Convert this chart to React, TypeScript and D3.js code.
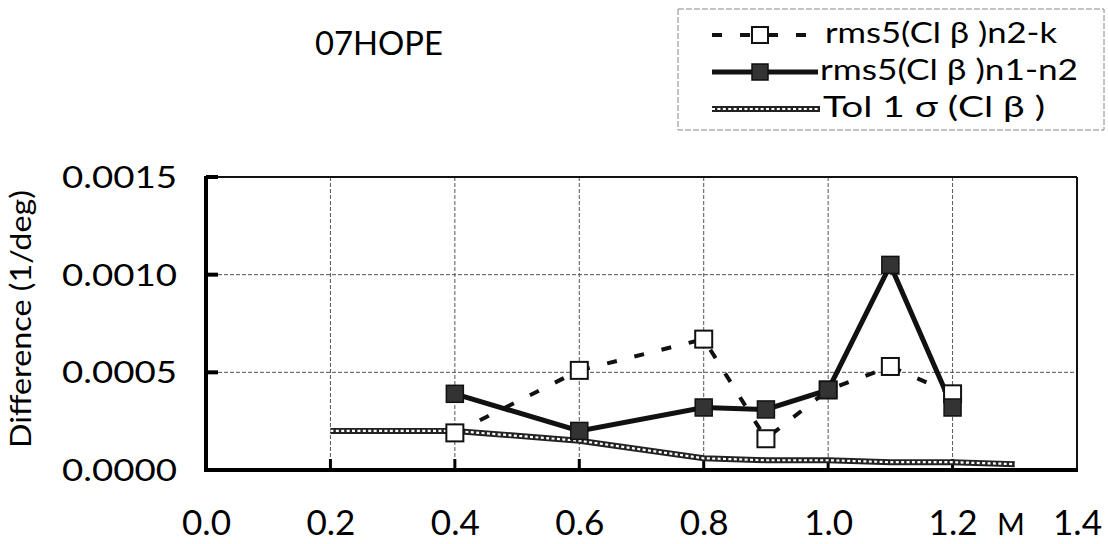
import React from "react";
import * as d3 from "d3";

// Mach numbers and series values
const machN2K = [0.4, 0.6, 0.8, 0.9, 1.0, 1.1, 1.2];
const rmsN2K = [0.00019, 0.00051, 0.00067, 0.00016, 0.00041, 0.00053, 0.00039];
const machN1N2 = [0.4, 0.6, 0.8, 0.9, 1.0, 1.1, 1.2];
const rmsN1N2 = [0.00039, 0.0002, 0.00032, 0.00031, 0.00041, 0.00105, 0.00032];
const machTol = [0.2, 0.4, 0.6, 0.8, 0.9, 1.0, 1.1, 1.2, 1.3];
const tolSigma = [0.0002, 0.0002, 0.00015, 0.00006, 0.00005, 0.00005, 0.00004, 0.00004, 0.00003];

const xTicks = [0.0, 0.2, 0.4, 0.6, 0.8, 1.0, 1.2, 1.4];
const yTicks = [0, 0.0005, 0.001, 0.0015];
const legendLabels = ["rms5(Cl β )n2-k", "rms5(Cl β )n1-n2", "Tol 1 σ (Cl β )"];

const W = 1108;
const H = 544;
const font = "Lato, 'Open Sans', sans-serif";

export default function App() {
  const x = d3.scaleLinear().domain([0, 1.4]).range([206, 1077]);
  const y = d3.scaleLinear().domain([0, 0.0015]).range([470, 177]);
  const [x0, x1] = x.range();
  const [y0, y1] = y.range();

  const line = d3
    .line<[number, number]>()
    .x((d) => x(d[0]))
    .y((d) => y(d[1]));

  const n2k = line(machN2K.map((m, i) => [m, rmsN2K[i]]) as [number, number][]) || "";
  const n1n2 = line(machN1N2.map((m, i) => [m, rmsN1N2[i]]) as [number, number][]) || "";
  const tol = line(machTol.map((m, i) => [m, tolSigma[i]]) as [number, number][]) || "";

  const ms = 17;
  const legendBase = [43, 80, 117];

  return (
    <svg width={W} height={H} style={{ position: "absolute", left: 0, top: 0, background: "#fff" }}>
      {/* grid */}
      {xTicks.slice(1, -1).map((t) => (
        <line key={"gx" + t} x1={x(t)} x2={x(t)} y1={y1} y2={y0} stroke="#555" strokeWidth={1} strokeDasharray="4 2" />
      ))}
      {yTicks.slice(1, -1).map((t) => (
        <line key={"gy" + t} x1={x0} x2={x1} y1={y(t)} y2={y(t)} stroke="#555" strokeWidth={1} strokeDasharray="4 2" />
      ))}

      {/* frame */}
      <line x1={x0} x2={x1} y1={y1} y2={y1} stroke="#111" strokeWidth={2} />
      <line x1={x1} x2={x1} y1={y1} y2={y0} stroke="#111" strokeWidth={2} />
      <line x1={x0} x2={x0} y1={y1 - 1} y2={y0 + 2} stroke="#000" strokeWidth={4} />
      <line x1={x0 - 2} x2={x1 + 1} y1={y0} y2={y0} stroke="#000" strokeWidth={4} />
      {yTicks.slice(1).map((t) => (
        <line key={"ty" + t} x1={x0} x2={x0 + 12} y1={y(t)} y2={y(t)} stroke="#000" strokeWidth={4} />
      ))}
      {xTicks.slice(1, -1).map((t) => (
        <line key={"tx" + t} x1={x(t)} x2={x(t)} y1={y0} y2={y0 - 11} stroke="#000" strokeWidth={3} />
      ))}

      {/* tol line */}
      <path d={tol} fill="none" stroke="#222" strokeWidth={6} />
      <path d={tol} fill="none" stroke="#fff" strokeWidth={2.2} strokeDasharray="3 2.4" />

      {/* n2-k dashed */}
      <path d={n2k} fill="none" stroke="#111" strokeWidth={4} strokeDasharray="10 18" />
      {/* n1-n2 solid */}
      <path d={n1n2} fill="none" stroke="#111" strokeWidth={5} />
      {machN2K.map((m, i) => (
        <rect key={"a" + i} x={x(m) - ms / 2} y={y(rmsN2K[i]) - ms / 2} width={ms} height={ms} fill="#fff" stroke="#111" strokeWidth={2} />
      ))}
      {machN1N2.map((m, i) => (
        <rect key={"b" + i} x={x(m) - ms / 2} y={y(rmsN1N2[i]) - ms / 2} width={ms} height={ms} fill="#333" stroke="#111" strokeWidth={1.5} />
      ))}

      {/* axis labels */}
      {yTicks.map((t) => (
        <text key={"ly" + t} x={177} y={y(t) + 11} textAnchor="end" fontFamily={font} fontSize={31} textLength={115} lengthAdjust="spacingAndGlyphs" fill="#000">
          {t.toFixed(4)}
        </text>
      ))}
      {xTicks.map((t) => (
        <text key={"lx" + t} x={x(t) - 24} y={535} fontFamily={font} fontSize={34} textLength={49} lengthAdjust="spacingAndGlyphs" fill="#000">
          {t.toFixed(1)}
        </text>
      ))}
      <text x={1011} y={535} textAnchor="middle" fontFamily={font} fontSize={30} fill="#000">M</text>
      <text transform="translate(31,319) rotate(-90)" textAnchor="middle" fontFamily={font} fontSize={28} textLength={258} lengthAdjust="spacingAndGlyphs" fill="#000">
        Difference (1/deg)
      </text>
      <text x={315} y={55} fontFamily={font} fontSize={32} textLength={128} lengthAdjust="spacingAndGlyphs" fill="#000">07HOPE</text>

      {/* legend */}
      <rect x={678} y={9} width={426} height={121} fill="none" stroke="#888" strokeWidth={1} strokeDasharray="6 2" />
      <line x1={712} x2={822} y1={legendBase[0] - 8} y2={legendBase[0] - 8} stroke="#111" strokeWidth={4} strokeDasharray="10 18" />
      <rect x={760 - 8} y={legendBase[0] - 16} width={16} height={16} fill="#fff" stroke="#111" strokeWidth={2} />
      <line x1={712} x2={818} y1={legendBase[1] - 8} y2={legendBase[1] - 8} stroke="#111" strokeWidth={5} />
      <rect x={760 - 8} y={legendBase[1] - 16} width={16} height={16} fill="#333" stroke="#111" strokeWidth={1.5} />
      <line x1={712} x2={820} y1={legendBase[2] - 8} y2={legendBase[2] - 8} stroke="#222" strokeWidth={6} />
      <line x1={712} x2={820} y1={legendBase[2] - 8} y2={legendBase[2] - 8} stroke="#fff" strokeWidth={2.2} strokeDasharray="3 2.4" />
      {legendLabels.map((l, i) => (
        <text key={l} x={[825, 820, 823][i]} y={legendBase[i]} fontFamily={font} fontSize={28} fill="#000" textLength={[232, 258, 222][i]} lengthAdjust="spacingAndGlyphs">
          {l}
        </text>
      ))}
    </svg>
  );
}
